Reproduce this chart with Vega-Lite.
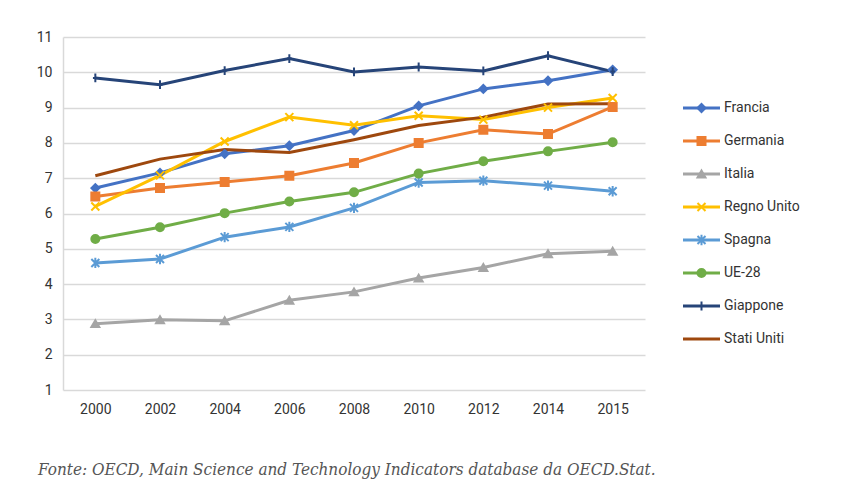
{
  "$schema": "https://vega.github.io/schema/vega-lite/v6.json",
  "width": 582,
  "height": 353,
  "autosize": {"type": "none"},
  "padding": {"left": 63, "top": 37, "right": 216, "bottom": 104},
  "background": "white",
  "title": {
    "text": "Fonte: OECD, Main Science and Technology Indicators database da OECD.Stat.",
    "orient": "bottom",
    "anchor": "start",
    "frame": "group",
    "font": "DejaVu Serif Condensed",
    "fontStyle": "italic",
    "fontWeight": "normal",
    "fontSize": 17,
    "color": "#555555",
    "offset": 46,
    "dx": -25
  },
  "config": {
    "font": "Roboto",
    "view": {"stroke": null},
    "legend": {"disable": true},
    "axis": {
      "labelFont": "Roboto",
      "labelFontSize": 14,
      "labelColor": "#333333",
      "ticks": false,
      "title": null
    }
  },
  "data": {
    "values": [
      {"paese": "Francia", "anno": "2000", "valore": 6.72},
      {"paese": "Francia", "anno": "2002", "valore": 7.15},
      {"paese": "Francia", "anno": "2004", "valore": 7.69},
      {"paese": "Francia", "anno": "2006", "valore": 7.92},
      {"paese": "Francia", "anno": "2008", "valore": 8.35},
      {"paese": "Francia", "anno": "2010", "valore": 9.05},
      {"paese": "Francia", "anno": "2012", "valore": 9.53},
      {"paese": "Francia", "anno": "2014", "valore": 9.76},
      {"paese": "Francia", "anno": "2015", "valore": 10.07},
      {"paese": "Germania", "anno": "2000", "valore": 6.48},
      {"paese": "Germania", "anno": "2002", "valore": 6.72},
      {"paese": "Germania", "anno": "2004", "valore": 6.89},
      {"paese": "Germania", "anno": "2006", "valore": 7.07},
      {"paese": "Germania", "anno": "2008", "valore": 7.43},
      {"paese": "Germania", "anno": "2010", "valore": 8.0},
      {"paese": "Germania", "anno": "2012", "valore": 8.37},
      {"paese": "Germania", "anno": "2014", "valore": 8.25},
      {"paese": "Germania", "anno": "2015", "valore": 9.02},
      {"paese": "Italia", "anno": "2000", "valore": 2.88},
      {"paese": "Italia", "anno": "2002", "valore": 2.99},
      {"paese": "Italia", "anno": "2004", "valore": 2.96},
      {"paese": "Italia", "anno": "2006", "valore": 3.54},
      {"paese": "Italia", "anno": "2008", "valore": 3.78},
      {"paese": "Italia", "anno": "2010", "valore": 4.17},
      {"paese": "Italia", "anno": "2012", "valore": 4.47},
      {"paese": "Italia", "anno": "2014", "valore": 4.86},
      {"paese": "Italia", "anno": "2015", "valore": 4.93},
      {"paese": "Regno Unito", "anno": "2000", "valore": 6.2},
      {"paese": "Regno Unito", "anno": "2002", "valore": 7.08},
      {"paese": "Regno Unito", "anno": "2004", "valore": 8.04},
      {"paese": "Regno Unito", "anno": "2006", "valore": 8.73},
      {"paese": "Regno Unito", "anno": "2008", "valore": 8.5},
      {"paese": "Regno Unito", "anno": "2010", "valore": 8.77},
      {"paese": "Regno Unito", "anno": "2012", "valore": 8.66},
      {"paese": "Regno Unito", "anno": "2014", "valore": 9.0},
      {"paese": "Regno Unito", "anno": "2015", "valore": 9.27},
      {"paese": "Spagna", "anno": "2000", "valore": 4.6},
      {"paese": "Spagna", "anno": "2002", "valore": 4.71},
      {"paese": "Spagna", "anno": "2004", "valore": 5.33},
      {"paese": "Spagna", "anno": "2006", "valore": 5.62},
      {"paese": "Spagna", "anno": "2008", "valore": 6.16},
      {"paese": "Spagna", "anno": "2010", "valore": 6.88},
      {"paese": "Spagna", "anno": "2012", "valore": 6.93},
      {"paese": "Spagna", "anno": "2014", "valore": 6.79},
      {"paese": "Spagna", "anno": "2015", "valore": 6.63},
      {"paese": "UE-28", "anno": "2000", "valore": 5.28},
      {"paese": "UE-28", "anno": "2002", "valore": 5.61},
      {"paese": "UE-28", "anno": "2004", "valore": 6.01},
      {"paese": "UE-28", "anno": "2006", "valore": 6.34},
      {"paese": "UE-28", "anno": "2008", "valore": 6.6},
      {"paese": "UE-28", "anno": "2010", "valore": 7.13},
      {"paese": "UE-28", "anno": "2012", "valore": 7.48},
      {"paese": "UE-28", "anno": "2014", "valore": 7.76},
      {"paese": "UE-28", "anno": "2015", "valore": 8.02},
      {"paese": "Giappone", "anno": "2000", "valore": 9.84},
      {"paese": "Giappone", "anno": "2002", "valore": 9.65},
      {"paese": "Giappone", "anno": "2004", "valore": 10.05},
      {"paese": "Giappone", "anno": "2006", "valore": 10.39},
      {"paese": "Giappone", "anno": "2008", "valore": 10.01},
      {"paese": "Giappone", "anno": "2010", "valore": 10.15},
      {"paese": "Giappone", "anno": "2012", "valore": 10.04},
      {"paese": "Giappone", "anno": "2014", "valore": 10.47},
      {"paese": "Giappone", "anno": "2015", "valore": 10.02},
      {"paese": "Stati Uniti", "anno": "2000", "valore": 7.07},
      {"paese": "Stati Uniti", "anno": "2002", "valore": 7.54},
      {"paese": "Stati Uniti", "anno": "2004", "valore": 7.81},
      {"paese": "Stati Uniti", "anno": "2006", "valore": 7.73},
      {"paese": "Stati Uniti", "anno": "2008", "valore": 8.09},
      {"paese": "Stati Uniti", "anno": "2010", "valore": 8.49},
      {"paese": "Stati Uniti", "anno": "2012", "valore": 8.73},
      {"paese": "Stati Uniti", "anno": "2014", "valore": 9.1},
      {"paese": "Stati Uniti", "anno": "2015", "valore": 9.11}
    ]
  },
  "resolve": {"scale": {"x": "independent", "y": "independent"}},
  "layer": [
    {
      "encoding": {
        "x": {
          "field": "anno",
          "type": "ordinal",
          "scale": {"type": "point", "padding": 0.5},
          "axis": {"labelAngle": 0, "domain": false, "grid": false, "labelPadding": 12}
        },
        "y": {
          "field": "valore",
          "type": "quantitative",
          "scale": {"domain": [1, 11], "nice": false},
          "axis": {
            "values": [1, 2, 3, 4, 5, 6, 7, 8, 9, 10, 11],
            "grid": true,
            "gridColor": "#d9d9d9",
            "gridWidth": 1.5,
            "domain": true,
            "domainColor": "#d9d9d9",
            "domainWidth": 1.5,
            "labelPadding": 11
          }
        },
        "color": {
          "field": "paese",
          "type": "nominal",
          "scale": {
            "domain": ["Francia", "Germania", "Italia", "Regno Unito", "Spagna", "UE-28", "Giappone", "Stati Uniti"],
            "range": ["#4472C4", "#ED7D31", "#A5A5A5", "#FFC000", "#5B9BD5", "#70AD47", "#264478", "#9E480E"]
          }
        }
      },
      "layer": [
        {"mark": {"type": "line", "strokeWidth": 3}},
        {
          "mark": {"type": "point", "filled": true, "size": 64, "strokeWidth": 2, "opacity": 1},
          "encoding": {
            "shape": {
              "field": "paese",
              "type": "nominal",
              "scale": {
                "domain": ["Francia", "Germania", "Italia", "Regno Unito", "Spagna", "UE-28", "Giappone", "Stati Uniti"],
                "range": [
                  "diamond",
                  "square",
                  "triangle-up",
                  "M-1,-1L1,1M-1,1L1,-1",
                  "M-1,-1L1,1M-1,1L1,-1M0,-1.3V1.3",
                  "circle",
                  "M0,-1.1V1.1M-0.6,0H0.6",
                  "M0,0"
                ]
              }
            },
            "stroke": {
              "field": "paese",
              "type": "nominal",
              "scale": {
                "domain": ["Francia", "Germania", "Italia", "Regno Unito", "Spagna", "UE-28", "Giappone", "Stati Uniti"],
                "range": ["#4472C4", "#ED7D31", "#A5A5A5", "#FFC000", "#5B9BD5", "#70AD47", "#264478", "#9E480E"]
              }
            }
          }
        }
      ]
    },
    {
      "transform": [{"filter": "datum.anno === '2000'"}],
      "encoding": {
        "y": {
          "field": "paese",
          "type": "nominal",
          "scale": {
            "type": "point",
            "domain": ["Francia", "Germania", "Italia", "Regno Unito", "Spagna", "UE-28", "Giappone", "Stati Uniti"],
            "range": [71, 302],
            "padding": 0
          },
          "axis": null
        },
        "color": {"field": "paese", "type": "nominal"}
      },
      "layer": [
        {
          "mark": {"type": "rule", "strokeWidth": 3},
          "encoding": {
            "x": {"datum": 0, "type": "quantitative", "scale": {"domain": [0, 100], "range": [620, 720]}, "axis": null},
            "x2": {"datum": 37}
          }
        },
        {
          "mark": {"type": "point", "filled": true, "size": 64, "strokeWidth": 2, "opacity": 1},
          "encoding": {
            "x": {"datum": 18.5, "type": "quantitative", "scale": {"domain": [0, 100], "range": [620, 720]}, "axis": null},
            "shape": {"field": "paese", "type": "nominal"},
            "stroke": {"field": "paese", "type": "nominal"}
          }
        },
        {
          "mark": {"type": "text", "align": "left", "baseline": "middle", "font": "Roboto", "fontSize": 14, "color": "#333333"},
          "encoding": {
            "x": {"datum": 41, "type": "quantitative", "scale": {"domain": [0, 100], "range": [620, 720]}, "axis": null},
            "text": {"field": "paese"},
            "color": {"value": "#333333"}
          }
        }
      ]
    }
  ]
}
